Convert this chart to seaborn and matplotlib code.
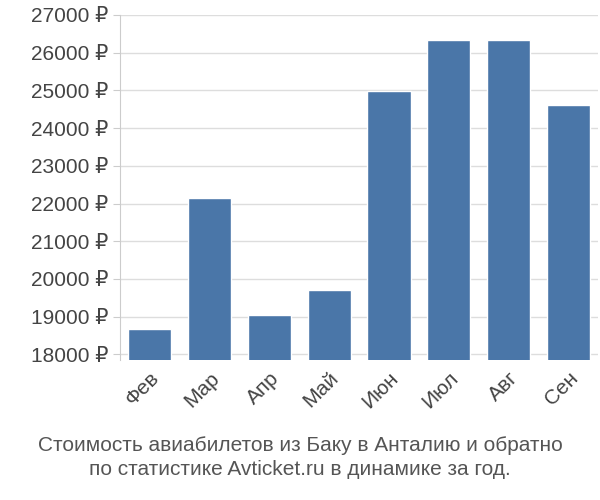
import matplotlib
matplotlib.use("Agg")
import matplotlib.pyplot as plt
import seaborn as sns
import pandas as pd

months = ["Фев", "Мар", "Апр", "Май", "Июн", "Июл", "Авг", "Сен"]
prices = [18680, 22140, 19050, 19700, 24990, 26350, 26350, 24620]
yticks = list(range(18000, 27001, 1000))

sns.set_style("white")
plt.rcParams['font.family'] = ['Liberation Sans', 'DejaVu Sans']

fig = plt.figure(figsize=(6, 5), dpi=100)
ax = fig.add_axes([0.2, 0.28, 0.797, 0.69])
df = pd.DataFrame({"m": months, "p": prices})
sns.barplot(data=df, x="m", y="p", color="#4a76a8", saturation=1, width=0.72, ax=ax)
ax.set_ylim(17850, 27000)
ax.set_yticks(yticks)
ax.set_yticklabels([f"{v} ₽" for v in yticks], fontsize=15, color="#444444")
ax.set_xticklabels(months, rotation=45, ha="right", rotation_mode="anchor", fontsize=15, color="#444444")
ax.set_xlabel("")
ax.set_ylabel("")
ax.yaxis.grid(True, color="#dddddd", linewidth=1)
ax.set_axisbelow(True)
for s in ["top", "right", "bottom"]:
    ax.spines[s].set_visible(False)
ax.spines["left"].set_color("#cccccc")
ax.tick_params(axis="y", length=5, color="#cccccc", left=True)
ax.tick_params(axis="x", length=0, pad=6)
fig.text(0.5, 0.085, "Стоимость авиабилетов из Баку в Анталию и обратно\nпо статистике Avticket.ru в динамике за год.",
         ha="center", va="center", fontsize=15, color="#555555", linespacing=1.3)
fig.savefig("out.png", dpi=100)
